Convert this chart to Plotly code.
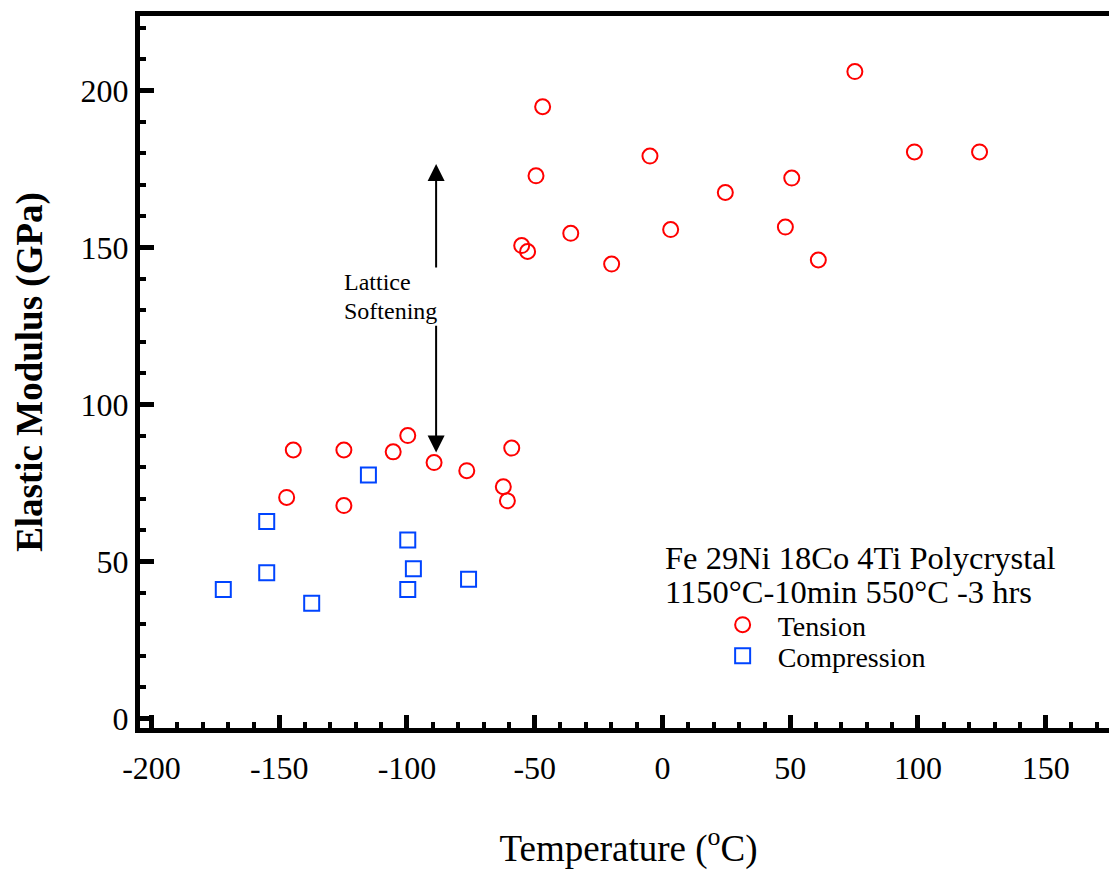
import plotly.graph_objects as go

# Tension data (Temperature °C, Elastic modulus GPa)
tension_T = [-147.1, -144.5, -124.7, -124.7, -105.4, -99.7, -89.4, -76.6, -62.3, -60.7, -59.0,
             -55.1, -52.8, -49.5, -46.9, -35.9, -19.9, -4.9, 3.2, 24.6, 48.1, 50.6, 61.0,
             75.3, 98.6, 124.1]
tension_E = [70.4, 85.5, 85.5, 67.8, 84.9, 90.1, 81.5, 78.9, 73.8, 69.3, 86.1,
             150.6, 148.7, 172.8, 194.8, 154.5, 144.7, 179.1, 155.7, 167.5, 156.5, 172.1, 146.0,
             206.0, 180.4, 180.4]

# Compression data
compression_T = [-171.9, -154.9, -154.9, -137.3, -115.1, -99.7, -99.7, -97.5, -75.9]
compression_E = [41.1, 46.4, 62.7, 36.7, 77.5, 56.8, 41.1, 47.7, 44.3]

x_ticks = [-200, -150, -100, -50, 0, 50, 100, 150]
y_ticks = [0, 50, 100, 150, 200]

# "Lattice Softening" double arrow (temperature, low / high modulus)
arrow_T = -88.6
arrow_low, arrow_high = 84.7, 176.6
label_upper_E, label_lower_E = 139.0, 129.7

FONT = "Liberation Serif"
RED = "#ff0000"
BLUE = "#0044ff"

fig = go.Figure()
fig.add_trace(go.Scatter(
    x=tension_T, y=tension_E, mode="markers", name="Tension", legend="legend",
    marker=dict(symbol="circle-open", size=15, color=RED, line=dict(width=2, color=RED)),
))
fig.add_trace(go.Scatter(
    x=compression_T, y=compression_E, mode="markers", name="Compression", legend="legend2",
    marker=dict(symbol="square-open", size=15, color=BLUE, line=dict(width=2, color=BLUE)),
))

arrow_common = dict(xref="x", yref="y", axref="x", ayref="y", showarrow=True,
                    arrowhead=2, arrowwidth=2, arrowsize=1.7, arrowcolor="black", standoff=0,
                    width=184, align="left", font=dict(family=FONT, size=24, color="black"))
# upper half of the arrow, with "Lattice"
fig.add_annotation(x=arrow_T, y=arrow_high, ax=arrow_T, ay=label_upper_E, text="Lattice", **arrow_common)
# lower half of the arrow, with "Softening"
fig.add_annotation(x=arrow_T, y=arrow_low, ax=arrow_T, ay=label_lower_E, text="Softening", **arrow_common)

# Legend header lines
fig.add_annotation(x=0.2, y=51.1, xref="x", yref="y", xanchor="left", yanchor="middle",
                   text="Fe 29Ni 18Co 4Ti Polycrystal", showarrow=False,
                   font=dict(family=FONT, size=32.5, color="black"))
fig.add_annotation(x=0.2, y=40.3, xref="x", yref="y", xanchor="left", yanchor="middle",
                   text="1150°C-10min 550°C -3 hrs", showarrow=False,
                   font=dict(family=FONT, size=32.5, color="black"))

legend_common = dict(xanchor="left", yanchor="middle", bgcolor="rgba(0,0,0,0)", itemwidth=60,
                     font=dict(family=FONT, size=28, color="black"))

fig.update_layout(
    width=1109, height=862,
    margin=dict(l=132, r=0, t=8, b=142, autoexpand=False),
    paper_bgcolor="white", plot_bgcolor="white",
    font=dict(family=FONT, color="black"),
    hovermode=False,
    showlegend=True,
    legend=dict(x=0.581, y=0.1447, **legend_common),
    legend2=dict(x=0.581, y=0.1011, **legend_common),
    xaxis=dict(
        range=[-204.5, 177.9], tickvals=x_ticks, ticktext=[str(v) for v in x_ticks],
        showline=True, linewidth=5, linecolor="black", mirror=True, automargin=False,
        ticks="inside", ticklen=13, tickwidth=5, tickcolor="black", ticklabelstandoff=8,
        minor=dict(dtick=10, ticks="inside", ticklen=6, tickwidth=4, tickcolor="black"),
        showgrid=False, zeroline=False,
        tickfont=dict(family=FONT, size=32, color="black"),
        title=dict(text="Temperature (<sup>o</sup>C)", font=dict(family=FONT, size=37, color="black"), standoff=62),
    ),
    yaxis=dict(
        range=[-3.03, 223.7], tickvals=y_ticks, ticktext=[str(v) for v in y_ticks],
        showline=True, linewidth=5, linecolor="black", mirror=False, automargin=False,
        ticks="inside", ticklen=14, tickwidth=5, tickcolor="black",
        minor=dict(dtick=10, ticks="inside", ticklen=6, tickwidth=4, tickcolor="black"),
        showgrid=False, zeroline=False,
        tickfont=dict(family=FONT, size=32, color="black"),
        title=dict(text="<b>Elastic Modulus (GPa)</b>", font=dict(family=FONT, size=37, color="black"), standoff=28),
    ),
)

fig.write_html("out.html")
